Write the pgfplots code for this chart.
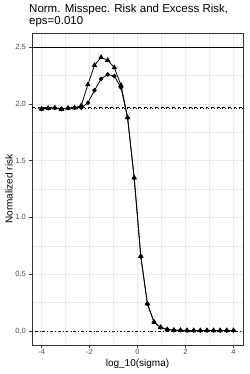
\documentclass[border=0pt]{standalone}
\usepackage{pgfplots}
\pgfplotsset{compat=1.18}
\usepackage{fontspec}
\setmainfont{Liberation Sans}
\definecolor{grid92}{HTML}{EBEBEB}
\definecolor{g20}{HTML}{333333}
\definecolor{g30}{HTML}{4D4D4D}
\pgfplotstableread{
x lo hi
-4.0000 1.955 1.955
-3.7241 1.962 1.962
-3.4483 1.965 1.965
-3.1724 1.953 1.953
-2.8966 1.963 1.963
-2.6207 1.965 1.965
-2.3448 1.966 1.985
-2.0690 2.010 2.170
-1.7931 2.120 2.340
-1.5172 2.220 2.410
-1.2414 2.260 2.385
-0.9655 2.245 2.320
-0.6897 2.145 2.165
-0.4138 1.877 1.880
-0.1379 1.348 1.348
0.1379 0.656 0.656
0.4138 0.238 0.238
0.6897 0.077 0.077
0.9655 0.030 0.030
1.2414 0.012 0.012
1.5172 0.006 0.006
1.7931 0.004 0.004
2.0690 0.003 0.003
2.3448 0.003 0.003
2.6207 0.003 0.003
2.8966 0.003 0.003
3.1724 0.003 0.003
3.4483 0.003 0.003
3.7241 0.003 0.003
4.0000 0.003 0.003
}\risk
\begin{document}
\begin{tikzpicture}
\path[use as bounding box] (-32pt,-29pt) rectangle (217pt,345pt);
\begin{axis}[
  at={(0pt,0pt)}, anchor=south west,
  scale only axis, width=211pt, height=312pt,
  xmin=-4.4, xmax=4.4, ymin=-0.125, ymax=2.625,
  xtick={-4,-2,0,2,4}, ytick={0,0.5,1,1.5,2,2.5},
  minor xtick={-3,-1,1,3}, minor ytick={0.25,0.75,1.25,1.75,2.25},
  grid=both,
  major grid style={grid92, line width=0.6pt},
  minor grid style={grid92, line width=0.3pt},
  axis line style={g20, line width=0.6pt},
  tick align=outside, major tick length=2.7pt, minor tick length=0pt,
  tick style={g20, line width=0.6pt},
  xtick pos=bottom, ytick pos=left,
  /pgf/number format/assume math mode=true,
  ticklabel style={font=\fontsize{7.5}{8}\selectfont, text=g30},
  yticklabel style={/pgf/number format/.cd, fixed, fixed zerofill, precision=1},
  xticklabel style={yshift=2pt, /pgf/number format/.cd, fixed, precision=0},
  xlabel={log\_10(sigma)}, ylabel={Normalized risk},
  label style={font=\fontsize{9.5}{10}\selectfont},
  every axis x label/.style={at={(axis description cs:0.5,-0.0696)}, anchor=base},
  every axis y label/.style={at={(axis description cs:-0.109,0.5)}, rotate=90, anchor=center},
  clip=false,
]
\addplot[black, line width=0.7pt, forget plot] coordinates {(-4.4,2.5) (4.4,2.5)};
\addplot[black, line width=0.6pt, dash pattern=on 2.8pt off 2.8pt] coordinates {(-4.4,1.968) (4.4,1.968)};
\addplot[black, line width=0.6pt, dash pattern=on 0.7pt off 2.1pt] coordinates {(-4.4,1.957) (4.4,1.957)};
\addplot[black, line width=0.6pt, dash pattern=on 0.7pt off 2.1pt on 2.8pt off 2.1pt] coordinates {(-4.4,0) (4.4,0)};
\addplot[black, line width=0.8pt, mark=triangle*, mark size=2.4pt, mark options={solid}] table[x=x, y=hi] {\risk};
\addplot[black, line width=0.8pt, mark=*, mark size=1.8pt, mark options={solid}] table[x=x, y=lo] {\risk};
\end{axis}
\node[anchor=base west, inner sep=0pt, font=\fontsize{11.5}{12}\selectfont] at (-3pt,332.3pt) {Norm. Misspec. Risk and Excess Risk,};
\node[anchor=base west, inner sep=0pt, font=\fontsize{11.5}{12}\selectfont] at (-3pt,320pt) {eps=0.010};
\end{tikzpicture}
\end{document}
